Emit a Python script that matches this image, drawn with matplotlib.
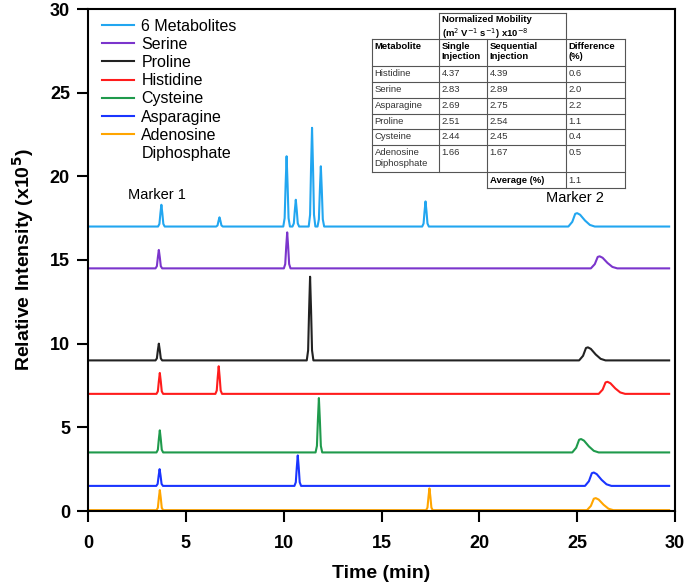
import matplotlib.pyplot as plt
from matplotlib.lines import Line2D

plt.rcParams["font.family"] = ["Liberation Sans", "DejaVu Sans"]

# trace data: baseline offset, peak times/heights, tailing marker-2 peak
names = ["6 Metabolites", "Serine", "Proline", "Histidine", "Cysteine",
         "Asparagine", "Adenosine"]
colors = ["#22a6f0", "#7b35cc", "#222222", "#ff1c1c", "#1f9a4c",
          "#1a35ff", "#ffa500"]
baselines = [17.0, 14.5, 9.0, 7.0, 3.5, 1.5, 0.05]
peak_times = [
    [3.75, 6.72, 10.15, 10.62, 11.45, 11.9, 17.25],
    [3.62, 10.18],
    [3.62, 11.35],
    [3.67, 6.68],
    [3.67, 11.8],
    [3.66, 10.72],
    [3.67, 17.45],
]
peak_heights = [
    [1.3, 0.55, 4.2, 1.6, 5.9, 3.6, 1.5],
    [1.1, 2.15],
    [1.0, 5.0],
    [1.25, 1.65],
    [1.32, 3.25],
    [1.0, 1.82],
    [1.2, 1.3],
]
marker2_times = [24.95, 26.1, 25.5, 26.5, 25.15, 25.8, 25.9]
marker2_heights = [0.8, 0.72, 0.78, 0.72, 0.8, 0.8, 0.72]
t_end = 29.7

# table contents
tbl_metab = ["Histidine", "Serine", "Asparagine", "Proline", "Cysteine",
             "Adenosine\nDiphosphate"]
tbl_single = ["4.37", "2.83", "2.69", "2.51", "2.44", "1.66"]
tbl_seq = ["4.39", "2.89", "2.75", "2.54", "2.45", "1.67"]
tbl_diff = ["0.6", "2.0", "2.2", "1.1", "0.4", "0.5"]
tbl_avg = "1.1"


def trace_xy(base, times, heights, m2_t, m2_h):
    xs, ys = [0.0], [base]
    for t, h in sorted(zip(times, heights)):
        for dx, f in [(-0.17, 0), (-0.1, 0.12), (-0.05, 0.6), (0, 1),
                      (0.05, 0.6), (0.1, 0.12), (0.17, 0)]:
            xs.append(t + dx)
            ys.append(base + f * h)
    for dx, f in [(-0.4, 0), (-0.2, 0.35), (-0.05, 0.95), (0.05, 1),
                  (0.2, 0.88), (0.45, 0.45), (0.7, 0.12), (0.95, 0)]:
        xs.append(m2_t + dx)
        ys.append(base + f * m2_h)
    xs.append(t_end)
    ys.append(base)
    return xs, ys


fig = plt.figure(figsize=(6.86, 5.85), dpi=100)
ax = fig.add_axes([88 / 686, 1 - 511 / 585, (675 - 88) / 686, (511 - 9) / 585])

handles = []
for i in range(len(names)):
    xs, ys = trace_xy(baselines[i], peak_times[i], peak_heights[i],
                      marker2_times[i], marker2_heights[i])
    ln, = ax.plot(xs, ys, color=colors[i], lw=1.5, label=names[i])
    handles.append(ln)
handles.append(Line2D([], [], color="none", label="Diphosphate"))

ax.set_xlim(0, 30)
ax.set_ylim(0, 30)
ax.set_xticks(range(0, 31, 5))
ax.set_yticks(range(0, 31, 5))
for s in ax.spines.values():
    s.set_linewidth(1.5)
ax.tick_params(direction="out", length=8, width=1.5, labelsize=13)
ax.tick_params(axis="x", pad=9)
ax.tick_params(axis="y", pad=5)
for lab in ax.get_xticklabels() + ax.get_yticklabels():
    lab.set_fontweight("bold")
ax.set_xlabel("Time (min)", fontsize=14, fontweight="bold", labelpad=10)
ax.set_ylabel("Relative Intensity (x10$^{\\mathbf{5}}$)", fontsize=14,
              fontweight="bold", labelpad=10)

ax.text(3.5, 18.9, "Marker 1", fontsize=10.5, ha="center", va="center")
ax.text(24.9, 18.7, "Marker 2", fontsize=10.5, ha="center", va="center")

ax.legend(handles=handles, loc="upper left", bbox_to_anchor=(0.008, 1.0),
          frameon=False, fontsize=11.5, handlelength=2.0, handletextpad=0.45,
          labelspacing=0.2, borderaxespad=0.2)

# table drawn in pixel coordinates on an overlay
ov = fig.add_axes([0, 0, 1, 1], facecolor="none")
ov.set_xlim(0, 686)
ov.set_ylim(585, 0)
ov.axis("off")

cx = [372, 439, 487, 566, 625]
ry = [12.7, 39.3, 66, 81.7, 97.7, 113.5, 129.3, 145, 171.7, 188.3]
lc = "#555555"
lw = 0.8

# horizontal lines
ov.plot([cx[1], cx[3]], [ry[0], ry[0]], color=lc, lw=lw)
for y in ry[1:9]:
    ov.plot([cx[0], cx[4]], [y, y], color=lc, lw=lw)
ov.plot([cx[2], cx[4]], [ry[9], ry[9]], color=lc, lw=lw)
# vertical lines
ov.plot([cx[0], cx[0]], [ry[1], ry[8]], color=lc, lw=lw)
ov.plot([cx[1], cx[1]], [ry[0], ry[8]], color=lc, lw=lw)
ov.plot([cx[2], cx[2]], [ry[1], ry[9]], color=lc, lw=lw)
ov.plot([cx[3], cx[3]], [ry[0], ry[9]], color=lc, lw=lw)
ov.plot([cx[4], cx[4]], [ry[1], ry[9]], color=lc, lw=lw)

fs = 6.8
pad = 2.5
ov.text(cx[1] + pad, ry[0] + 2, "Normalized Mobility\n(m$^2$ V$^{-1}$ s$^{-1}$) x10$^{-8}$",
        fontsize=fs, fontweight="bold", va="top", ha="left", linespacing=1.3)
heads = ["Metabolite", "Single\nInjection", "Sequential\nInjection", "Difference\n(%)"]
for j, h in enumerate(heads):
    ov.text(cx[j] + pad, ry[1] + 2.5, h, fontsize=fs, fontweight="bold",
            va="top", ha="left", linespacing=1.2)
for i in range(len(tbl_metab)):
    y = ry[2 + i] + 3
    for j, v in enumerate([tbl_metab[i], tbl_single[i], tbl_seq[i], tbl_diff[i]]):
        ov.text(cx[j] + pad, y, v, fontsize=fs, va="top", ha="left",
                color="#333333", linespacing=1.25)
ov.text(cx[2] + pad, ry[8] + 4, "Average (%)", fontsize=fs, fontweight="bold",
        va="top", ha="left")
ov.text(cx[3] + pad, ry[8] + 4, tbl_avg, fontsize=fs, va="top", ha="left",
        color="#333333")

fig.savefig("out.png", dpi=100)
